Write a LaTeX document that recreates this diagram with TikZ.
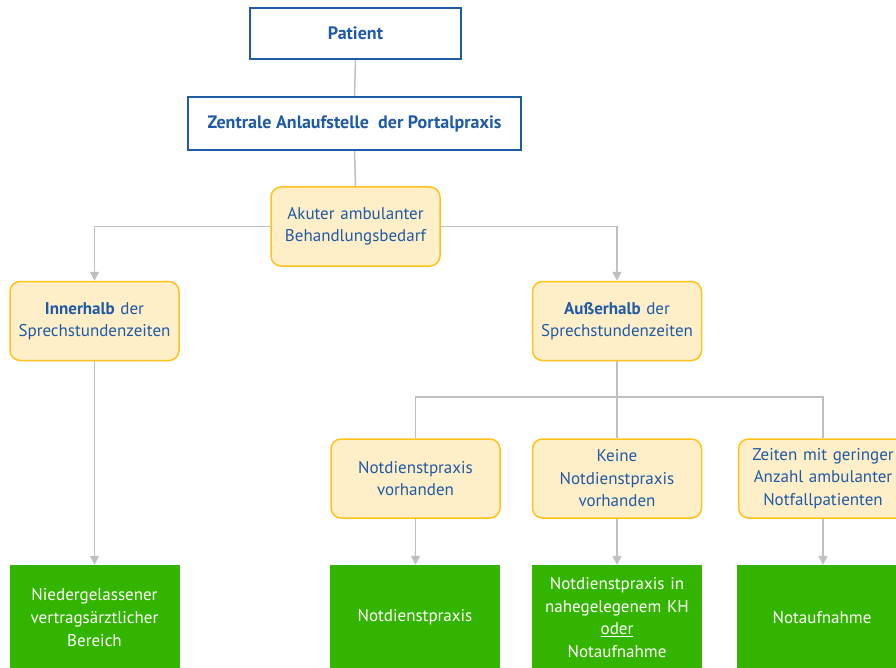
\documentclass[tikz,border=0pt]{standalone}
\usepackage{fontspec}
\setmainfont{PT Sans}
\usetikzlibrary{arrows.meta,backgrounds}
\definecolor{bl}{HTML}{1F5AA6}
\definecolor{yfill}{HTML}{FFEFC8}
\definecolor{yline}{HTML}{FFC21A}
\definecolor{gr}{HTML}{33B500}
\definecolor{ln}{HTML}{BFBFBF}
\tikzset{
  bluebox/.style={draw=bl,line width=1.5pt,fill=white,text=bl,font=\fontsize{18}{22}\selectfont\bfseries,align=center,inner sep=0pt},
  ybox/.style={draw=yline,line width=1.5pt,fill=yfill,text=bl,rounded corners=10pt,minimum width=169pt,minimum height=79pt,text width=167pt,align=center,inner sep=0pt,font=\fontsize{17}{22.5}\selectfont},
  gbox/.style={fill=gr,text=white,minimum width=170pt,minimum height=105pt,text width=167pt,align=center,inner sep=0pt,font=\fontsize{17}{22.7}\selectfont},
  conn/.style={draw=ln,line width=1.5pt},
  arr/.style={conn,-{Triangle[width=9pt,length=9pt]}}
}
\begin{document}
\begin{tikzpicture}[x=1pt,y=-1pt]
\useasboundingbox (0,0) rectangle (896,668);
\node[bluebox,minimum width=211pt,minimum height=51pt] (patient) at (355.5,33.5) {Patient};
\node[bluebox,minimum width=333pt,minimum height=53pt] (zentrale) at (354.5,123.5) {Zentrale Anlaufstelle\ \ der Portalpraxis};
\node[ybox] (akuter) at (355.5,226.5) {Akuter ambulanter\\Behandlungsbedarf};
\node[ybox] (inner) at (94.5,321) {\textbf{Innerhalb} der\\Sprechstundenzeiten};
\node[ybox] (ausser) at (617,321) {\textbf{Außerhalb} der\\Sprechstundenzeiten};
\node[ybox] (nd) at (415.5,478.5) {Notdienstpraxis\\vorhanden};
\node[ybox] (keine) at (617,478.5) {Keine\\Notdienstpraxis\\vorhanden};
\node[ybox] (zeiten) at (823,478.5) {Zeiten mit geringer\\Anzahl ambulanter\\Notfallpatienten};
\node[gbox] (g1) at (94.5,617.5) {Niedergelassener\\vertragsärztlicher\\Bereich};
\node[gbox] (g2) at (415,617.5) {Notdienstpraxis};
\node[gbox] (g3) at (617,617.5) {Notdienstpraxis in\\nahegelegenem KH\\\underline{oder}\\Notaufnahme};
\node[gbox] (g4) at (822,617.5) {Notaufnahme};
\coordinate (split) at (617,397);
\begin{scope}[on background layer]
\draw[conn] (patient.south) -- (zentrale.north);
\draw[conn] (zentrale.south) -- (akuter.north);
\draw[arr] (akuter.center) -| (inner.north);
\draw[arr] (akuter.center) -| (ausser.north);
\draw[arr] (inner.south) -- (g1.north);
\draw[conn] (ausser.south) -- (split);
\draw[conn] (split) -| (nd.north);
\draw[conn] (split) -- (keine.north);
\draw[conn] (split) -| (zeiten.north);
\draw[arr] (nd.south) -- (nd.south |- g2.north);
\draw[arr] (keine.south) -- (g3.north);
\draw[arr] (zeiten.south) -- (zeiten.south |- g4.north);
\end{scope}
\end{tikzpicture}
\end{document}
